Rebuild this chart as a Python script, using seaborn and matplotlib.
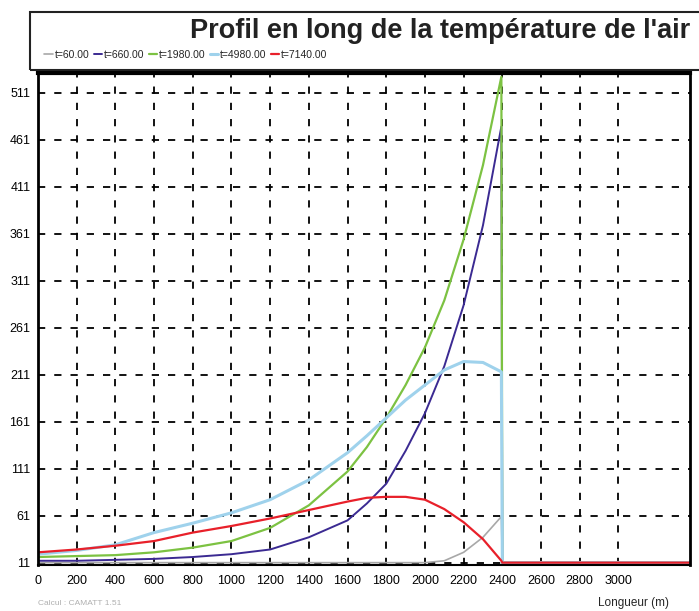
import numpy as np
import pandas as pd
import matplotlib
matplotlib.use("Agg")
import matplotlib.pyplot as plt
import seaborn as sns
from matplotlib.patches import Rectangle
from matplotlib.ticker import MultipleLocator

# positions along the tunnel (m)
x_pos = [0, 200, 400, 600, 800, 1000, 1200, 1400, 1600, 1700, 1800, 1900,
         2000, 2100, 2200, 2300, 2395, 2400, 3370]

# air temperature for each time step
series = {
    "t=60.00": [11, 11, 11, 11, 11, 11, 11, 11, 11, 11, 11, 11,
                11, 13, 22, 38, 60, 11, 11],
    "t=660.00": [13, 13, 14, 15, 17, 20, 25, 38, 56, 74, 95, 130,
                 170, 220, 285, 370, 475, 11, 11],
    "t=1980.00": [17, 18, 19, 22, 27, 34, 48, 72, 108, 134, 165, 200,
                  240, 290, 355, 434, 528, 11, 11],
    "t=4980.00": [20, 24, 30, 43, 53, 64, 78, 99, 128, 146, 165, 184,
                  200, 216, 225, 224, 214, 11, 11],
    "t=7140.00": [22, 25, 29, 34, 43, 50, 58, 67, 76, 80, 81, 81,
                  78, 68, 54, 36, 13, 11, 11],
}
colors = ["#a8a8a8", "#3b2a92", "#7cc242", "#9fd2ec", "#e8202a"]
widths = [1.2, 1.4, 1.6, 2.2, 1.6]

yticks = list(range(11, 512, 50))
xticks = list(range(0, 3001, 200))

rows = []
for name, vals in series.items():
    for i, (x, v) in enumerate(zip(x_pos, vals)):
        rows.append({"x": x, "T": v, "serie": name, "ordre": i})
df = pd.DataFrame(rows)

sns.set_style("white")
plt.rcParams["font.family"] = ["Liberation Sans", "DejaVu Sans"]

fig = plt.figure(figsize=(6.99, 6.11), dpi=100)
ax = fig.add_axes([38 / 699, 46 / 611, 652 / 699, 492 / 611])

for (name, _), col, lw in zip(series.items(), colors, widths):
    sub = df[df["serie"] == name].sort_values("ordre")
    sns.lineplot(data=sub, x="x", y="T", ax=ax, color=col, lw=lw,
                 sort=False, estimator=None, label=name, legend=False)

ax.set_xlim(0, 3370)
ax.set_ylim(8.5, 532)
ax.set_xticks(xticks)
ax.set_yticks(yticks)
ax.xaxis.set_minor_locator(MultipleLocator(50))
ax.yaxis.set_minor_locator(MultipleLocator(10))
ax.tick_params(axis="both", which="major", direction="inout", length=7,
               width=1.2, labelsize=9, colors="black", pad=2)
ax.tick_params(axis="both", which="minor", direction="in", length=3,
               width=1)
ax.tick_params(axis="x", which="major", pad=4)
ax.grid(True, which="major", color="black", linestyle=(0, (4, 5)), lw=1.3)
ax.set_xlabel("")
ax.set_ylabel("")

for side, lw in [("left", 2), ("top", 3), ("right", 2), ("bottom", 1.5)]:
    ax.spines[side].set_visible(True)
    ax.spines[side].set_color("black")
    ax.spines[side].set_linewidth(lw)

# title box
box = Rectangle((30 / 699, 541 / 611), 700 / 699, 58 / 611,
                transform=fig.transFigure, fill=False, edgecolor="#222222",
                lw=1.5, clip_on=False)
fig.add_artist(box)
fig.text(190 / 699, 573 / 611, "Profil en long de la température de l'air",
         fontsize=19.5, fontweight="bold", color="#222222", ha="left",
         va="baseline")

handles, labels = ax.get_legend_handles_labels()
fig.legend(handles, labels, loc="center left", bbox_to_anchor=(40 / 699, 556 / 611),
           ncol=5, frameon=False, handlelength=0.8, handletextpad=0.2,
           columnspacing=0.4, fontsize=7.5, borderaxespad=0)

fig.text(38 / 699, 4 / 611, "Calcul : CAMATT 1.51", fontsize=6,
         color="#b0b0b0", ha="left", va="bottom")
fig.text(598 / 699, 2 / 611, "Longueur (m)", fontsize=8.5, ha="left",
         va="bottom")

fig.savefig("out.png", dpi=100)
